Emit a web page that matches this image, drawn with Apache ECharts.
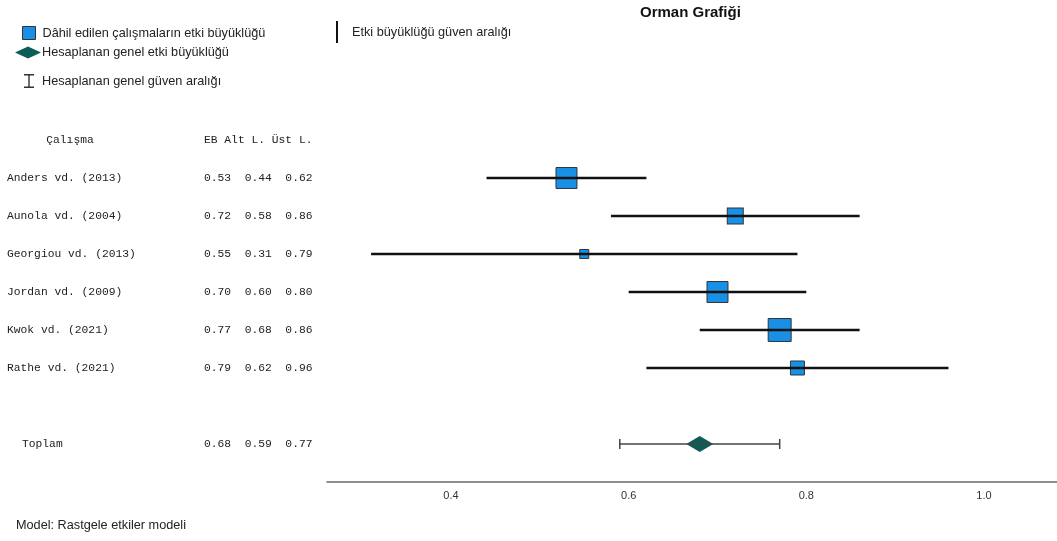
<!DOCTYPE html>
<html>
<head>
<meta charset="utf-8">
<script src="https://cdn.jsdelivr.net/npm/echarts@6/dist/echarts.min.js"></script>
<style>
html,body{margin:0;padding:0;background:#fff;}
#chart{width:1057px;height:541px;}
</style>
</head>
<body>
<div id="chart"></div>
<script>
// ---- data ----
const studies = ['Anders vd. (2013)', 'Aunola vd. (2004)', 'Georgiou vd. (2013)', 'Jordan vd. (2009)', 'Kwok vd. (2021)', 'Rathe vd. (2021)'];
const eb = [0.53, 0.72, 0.55, 0.70, 0.77, 0.79];
const lower = [0.44, 0.58, 0.31, 0.60, 0.68, 0.62];
const upper = [0.62, 0.86, 0.79, 0.80, 0.86, 0.96];
const weights = [22.7, 13.2, 4.2, 22.7, 27.2, 10.1];
const totalLabel = 'Toplam';
const totalEB = 0.68;
const totalLower = 0.59;
const totalUpper = 0.77;
const headerStudy = 'Çalışma';
const headerValues = 'EB Alt L. Üst L.';
const xTickValues = [0.4, 0.6, 0.8, 1.0];
const titleText = 'Orman Grafiği';
const modelText = 'Model: Rastgele etkiler modeli';
const nameSquares = 'Dâhil edilen çalışmaların etki büyüklüğü';
const nameDiamond = 'Hesaplanan genel etki büyüklüğü';
const nameTotalCI = 'Hesaplanan genel güven aralığı';
const nameStudyCI = 'Etki büyüklüğü güven aralığı';

// ---- derived ----
const TOTAL_ROW = studies.length + 1;
const HEADER_ROW = -1;
const fmt = v => v.toFixed(2);
const tableRows = [{row: HEADER_ROW, name: headerStudy, vals: headerValues, header: true}]
  .concat(studies.map((s, i) => ({row: i, name: s, vals: [eb[i], lower[i], upper[i]].map(fmt).join('  ')})))
  .concat([{row: TOTAL_ROW, name: totalLabel, vals: [totalEB, totalLower, totalUpper].map(fmt).join('  '), total: true}]);

const mono = '11.3px "Liberation Mono", "Courier New", monospace';
const sans = '"Liberation Sans", Arial, sans-serif';
const legendFont = 12.7;

const chart = echarts.init(document.getElementById('chart'), null, {renderer: 'canvas'});
const option = {
  animation: false,
  backgroundColor: '#ffffff',
  title: [
    {text: titleText, left: 640, top: 5, padding: 0,
     textStyle: {fontFamily: sans, fontSize: 15, fontWeight: 'bold', color: '#111'}},
    {text: modelText, left: 16, top: 519, padding: 0,
     textStyle: {fontFamily: sans, fontSize: legendFont, fontWeight: 'normal', color: '#222'}}
  ],
  legend: [
    {left: 22, top: 26, padding: 0, itemWidth: 13, itemHeight: 13, selectedMode: false,
     itemStyle: {borderWidth: 1, borderColor: '#333'},
     textStyle: {fontFamily: sans, fontSize: legendFont, color: '#222', padding: [0, 0, 0, 2]},
     data: [{name: nameSquares, icon: 'rect'}]},
    {left: 15, top: 46, padding: 0, itemWidth: 26, itemHeight: 12, selectedMode: false,
     textStyle: {fontFamily: sans, fontSize: legendFont, color: '#222', padding: [0, 0, 0, -4]},
     data: [{name: nameDiamond, icon: 'diamond'}]},
    {left: 24, top: 74, padding: 0, itemWidth: 10, itemHeight: 14, selectedMode: false,
     textStyle: {fontFamily: sans, fontSize: legendFont, color: '#222', padding: [0, 0, 0, 3]},
     data: [{name: nameTotalCI, icon: 'path://M0,0H10V1.4H5.7V12.6H10V14H0V12.6H4.3V1.4H0Z'}]},
    {left: 336, top: 21, padding: 0, itemWidth: 2, itemHeight: 22, selectedMode: false,
     textStyle: {fontFamily: sans, fontSize: legendFont, color: '#222', padding: [0, 0, 0, 9]},
     data: [{name: nameStudyCI, icon: 'rect'}]}
  ],
  grid: [
    {left: 327, right: 0, top: 121, bottom: 59, containLabel: false},
    {left: 0, width: 327, top: 121, bottom: 59, containLabel: false}
  ],
  xAxis: [
    {type: 'value', gridIndex: 0, min: 0.2604, max: 1.0822, position: 'bottom',
     axisLine: {show: true, onZero: false, lineStyle: {color: '#6a6a6a', width: 1.5}},
     axisTick: {show: false},
     splitLine: {show: false},
     axisLabel: {show: true, customValues: xTickValues, formatter: v => v.toFixed(1),
                 margin: 8, fontFamily: sans, fontSize: 11, color: '#333'}},
    {type: 'value', gridIndex: 1, min: 0, max: 327, show: false}
  ],
  yAxis: [
    {type: 'value', gridIndex: 0, min: -1.5, max: 8, inverse: true, show: false},
    {type: 'value', gridIndex: 1, min: -1.5, max: 8, inverse: true, show: false}
  ],
  series: [
    {
      name: nameSquares, type: 'scatter', xAxisIndex: 0, yAxisIndex: 0, z: 3,
      symbol: 'rect',
      symbolSize: v => Math.sqrt(v[2]) * 4.4,
      itemStyle: {color: '#1790e6', borderColor: '#333', borderWidth: 1, opacity: 1},
      data: eb.map((v, i) => [v, i, weights[i]])
    },
    {
      name: nameStudyCI, type: 'custom', xAxisIndex: 0, yAxisIndex: 0, z: 4,
      itemStyle: {color: '#111'},
      data: studies.map((s, i) => [lower[i], upper[i], i]),
      renderItem: (params, api) => {
        const a = api.coord([api.value(0), api.value(2)]);
        const b = api.coord([api.value(1), api.value(2)]);
        return {type: 'line', shape: {x1: a[0], y1: a[1], x2: b[0], y2: b[1]},
                style: {stroke: '#111', lineWidth: 2.7}};
      }
    },
    {
      name: nameDiamond, type: 'scatter', xAxisIndex: 0, yAxisIndex: 0, z: 3,
      symbol: 'diamond', symbolSize: [27, 16],
      itemStyle: {color: '#0c5d58', opacity: 1},
      data: [[totalEB, TOTAL_ROW]]
    },
    {
      name: nameTotalCI, type: 'custom', xAxisIndex: 0, yAxisIndex: 0, z: 4,
      itemStyle: {color: '#333'},
      data: [[totalLower, totalUpper, TOTAL_ROW]],
      renderItem: (params, api) => {
        const a = api.coord([api.value(0), api.value(2)]);
        const b = api.coord([api.value(1), api.value(2)]);
        const st = {stroke: '#444', lineWidth: 1.5};
        return {type: 'group', children: [
          {type: 'line', shape: {x1: a[0], y1: a[1], x2: b[0], y2: b[1]}, style: st},
          {type: 'line', shape: {x1: a[0], y1: a[1] - 5, x2: a[0], y2: a[1] + 5}, style: st},
          {type: 'line', shape: {x1: b[0], y1: b[1] - 5, x2: b[0], y2: b[1] + 5}, style: st}
        ]};
      }
    },
    {
      name: 'table', type: 'custom', xAxisIndex: 1, yAxisIndex: 1, z: 2, silent: true,
      clip: false,
      data: tableRows.map(r => [0, r.row]),
      renderItem: (params, api) => {
        const r = tableRows[params.dataIndex];
        const y = api.coord([0, api.value(1)])[1];
        const nameX = r.header ? api.coord([70, 0])[0] : (r.total ? api.coord([22, 0])[0] : api.coord([7, 0])[0]);
        const valX = api.coord([204, 0])[0];
        return {type: 'group', children: [
          {type: 'text', style: {text: r.name, x: nameX, y: y, font: mono, fill: '#222',
                                 align: r.header ? 'center' : 'left', verticalAlign: 'middle'}},
          {type: 'text', style: {text: r.vals, x: valX, y: y, font: mono, fill: '#222',
                                 align: 'left', verticalAlign: 'middle'}}
        ]};
      }
    }
  ]
};
chart.setOption(option);
</script>
</body>
</html>
